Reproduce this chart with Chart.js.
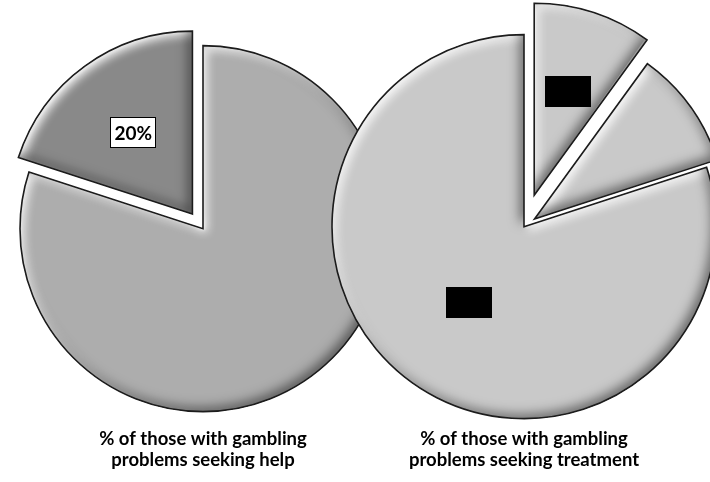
<!DOCTYPE html>
<html>
<head>
<meta charset="utf-8">
<script src="https://cdn.jsdelivr.net/npm/chart.js@4/dist/chart.umd.min.js"></script>
<style>
  html, body { margin: 0; padding: 0; background: #fff; }
  #wrap { position: relative; width: 710px; height: 482px; overflow: hidden; }
  #wrap canvas { position: absolute; left: 0; top: 0; }
</style>
</head>
<body>
<div id="wrap">
  <canvas id="help" width="710" height="482"></canvas>
  <canvas id="treatment" width="710" height="482"></canvas>
</div>
<script>
// seeking help
var helpLabels = ['Not seeking help', 'Seeking help'];
var helpValues = [80, 20];
var helpTitle = ['% of those with gambling', 'problems seeking help'];

// seeking treatment
var treatLabels = ['Treatment', 'Other help', 'No treatment'];
var treatValues = [10, 10, 80];
var treatTitle = ['% of those with gambling', 'problems seeking treatment'];

var FONT = 'Lato, "Open Sans", sans-serif';

// chart.js pushes the radius of an exploded slice out a little, take that back
function explodeShift(arc) {
  var shift = (arc.options.offset || 0) / 4;
  var fix = 1 - Math.sin(Math.min(Math.PI, arc.circumference || 0));
  return { shift: shift, grow: shift * fix };
}

var keepRadius = {
  id: 'keepRadius',
  afterDatasetUpdate: function (chart, args) {
    args.meta.data.forEach(function (arc) {
      arc.outerRadius -= explodeShift(arc).grow;
    });
  }
};

// where the slice really sits once it is pulled out
function sliceGeom(arc) {
  var s = explodeShift(arc);
  var mid = (arc.startAngle + arc.endAngle) / 2;
  return {
    x: arc.x + Math.cos(mid) * s.shift,
    y: arc.y + Math.sin(mid) * s.shift,
    r: arc.outerRadius + s.grow,
    mid: mid
  };
}

function addSlice(ctx, arc) {
  var g = sliceGeom(arc);
  ctx.moveTo(g.x, g.y);
  ctx.arc(g.x, g.y, g.r, arc.startAngle, arc.endAngle);
  ctx.closePath();
}

// soft bevel: light inner edge top-left, dark inner edge bottom-right
var bevel = {
  id: 'bevel',
  afterDatasetsDraw: function (chart) {
    var ctx = chart.ctx;
    var passes = [
      ['rgba(255,255,255,1)', 4, 10],
      ['rgba(255,255,255,0.9)', 1.5, 3],
      ['rgba(0,0,0,0.5)', -4, 12]
    ];
    chart.getDatasetMeta(0).data.forEach(function (arc) {
      passes.forEach(function (p) {
        ctx.save();
        ctx.beginPath();
        addSlice(ctx, arc);
        ctx.clip();
        ctx.beginPath();
        ctx.rect(-1000, -1000, 3000, 3000);
        addSlice(ctx, arc);
        ctx.shadowColor = p[0];
        ctx.shadowOffsetX = p[1];
        ctx.shadowOffsetY = p[1];
        ctx.shadowBlur = p[2];
        ctx.fillStyle = '#000';
        ctx.fill('evenodd');
        ctx.restore();
      });
      ctx.save();
      ctx.beginPath();
      addSlice(ctx, arc);
      ctx.lineWidth = 1.6;
      ctx.lineJoin = 'miter';
      ctx.strokeStyle = '#1c1c1c';
      ctx.stroke();
      ctx.restore();
    });
  }
};

// boxed value labels inside the slices
var sliceLabels = {
  id: 'sliceLabels',
  afterDraw: function (chart, args, opts) {
    var ctx = chart.ctx;
    var values = chart.data.datasets[0].data;
    chart.getDatasetMeta(0).data.forEach(function (arc, i) {
      if (!opts.at[i]) return;
      var g = sliceGeom(arc);
      var d = g.r * opts.at[i];
      var x = g.x + Math.cos(g.mid) * d;
      var y = g.y + Math.sin(g.mid) * d;
      var text = values[i] + '%';
      ctx.save();
      ctx.font = 'bold 19px ' + FONT;
      var w = 46;
      var h = 31;
      ctx.fillStyle = opts.fill;
      ctx.fillRect(Math.round(x - w / 2), Math.round(y - h / 2), w, h);
      ctx.lineWidth = 1;
      ctx.strokeStyle = '#000';
      ctx.strokeRect(Math.round(x - w / 2) + 0.5, Math.round(y - h / 2) + 0.5, w - 1, h - 1);
      ctx.fillStyle = opts.color;
      ctx.textAlign = 'center';
      ctx.textBaseline = 'middle';
      ctx.fillText(text, x, y + 1);
      ctx.restore();
    });
  }
};

function pieOptions(title, padding, labelOpts) {
  return {
    responsive: false,
    animation: false,
    events: [],
    layout: { padding: padding },
    plugins: {
      legend: { display: false },
      tooltip: { enabled: false },
      title: {
        display: true,
        position: 'bottom',
        text: title,
        color: '#000',
        font: { family: FONT, size: 18.5, weight: 'bold', lineHeight: 1.1 },
        padding: { top: 0, bottom: 12 }
      },
      sliceLabels: labelOpts
    }
  };
}

new Chart(document.getElementById('help'), {
  type: 'pie',
  data: {
    labels: helpLabels,
    datasets: [{
      data: helpValues,
      backgroundColor: ['#adadad', '#898989'],
      borderColor: '#1c1c1c',
      borderWidth: 0,
      offset: [0, 72],
      radius: 183
    }]
  },
  options: pieOptions(helpTitle, { left: 0, right: 304, top: 28, bottom: 0 },
    { at: [0, 0.55], fill: '#fff', color: '#000' }),
  plugins: [keepRadius, bevel, sliceLabels]
});

new Chart(document.getElementById('treatment'), {
  type: 'pie',
  data: {
    labels: treatLabels,
    datasets: [{
      data: treatValues,
      backgroundColor: '#c9c9c9',
      borderColor: '#1c1c1c',
      borderWidth: 0,
      offset: [132, 52, 0],
      radius: 192
    }]
  },
  options: pieOptions(treatTitle, { left: 338, right: 0, top: 24, bottom: 0 },
    { at: [0.57, 0, 0.49], fill: '#000', color: '#000' }),
  plugins: [keepRadius, bevel, sliceLabels]
});
</script>
</body>
</html>
